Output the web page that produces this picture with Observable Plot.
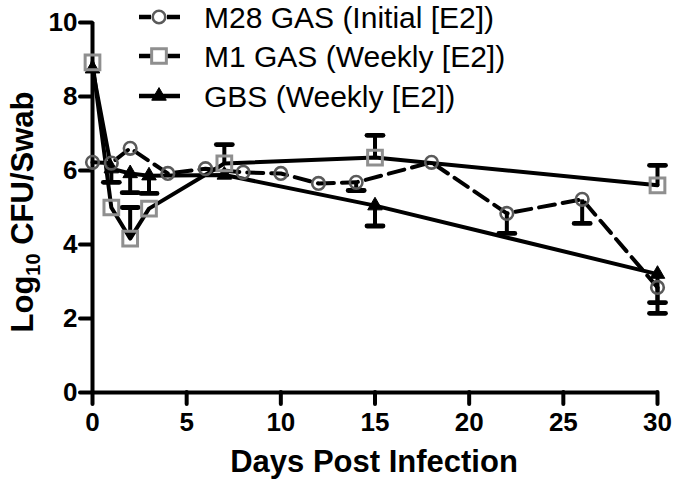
<!DOCTYPE html>
<html>
<head>
<meta charset="utf-8">
<script src="https://cdn.jsdelivr.net/npm/d3@7"></script>
<script src="https://cdn.jsdelivr.net/npm/@observablehq/plot@0.6"></script>
<style>
  html, body { margin: 0; padding: 0; background: #fff; }
  #chart { width: 675px; height: 484px; position: relative; }
</style>
</head>
<body>
<div id="chart"></div>
<script>
// ---- data ----
const seriesNames = ["M28 GAS (Initial [E2])", "M1 GAS (Weekly [E2])", "GBS (Weekly [E2])"];

const m28Days = [0, 1, 2, 4, 6, 8, 10, 12, 14, 18, 22, 26, 30];
const m28Values = [6.22, 6.2, 6.6, 5.92, 6.05, 5.95, 5.92, 5.65, 5.68, 6.22, 4.84, 5.22, 2.84];
const m28ErrEnd = [null, null, null, null, null, null, null, null, 5.46, null, 4.3, 4.57, 2.14];

const m1Days = [0, 1, 2, 3, 7, 15, 30];
const m1Values = [8.92, 5.0, 4.16, 4.97, 6.19, 6.35, 5.6];
const m1ErrEnd = [null, null, 5.0, null, 6.7, 6.95, 6.14];

const gbsDays = [0, 1, 2, 3, 7, 15, 30];
const gbsValues = [8.75, 6.05, 5.92, 5.86, 5.88, 5.05, 3.2];
const gbsErrEnd = [null, 5.68, 5.4, 5.38, null, 4.5, 2.43];

const xTicks = [0, 5, 10, 15, 20, 25, 30];
const yTicks = [0, 2, 4, 6, 8, 10];
const xTitle = "Days Post Infection";
const yTitleParts = ["Log", "10", " CFU/Swab"];

// ---- build tables ----
function rows(name, days, vals, errs) {
  return days.map((d, i) => ({series: name, day: d, value: vals[i], err: errs[i]}));
}
const m28 = rows(seriesNames[0], m28Days, m28Values, m28ErrEnd);
const m1 = rows(seriesNames[1], m1Days, m1Values, m1ErrEnd);
const gbs = rows(seriesNames[2], gbsDays, gbsValues, gbsErrEnd);
const allRows = [...m28, ...m1, ...gbs];
const errRows = allRows.filter(d => d.err != null);

const capSymbol = {
  draw(ctx, size) {
    const w = Math.sqrt(size / Math.PI);
    ctx.moveTo(-w, 0);
    ctx.lineTo(w, 0);
  }
};

const FONT = "'Liberation Sans', Arial, Helvetica, sans-serif";
const LW = 4;

const plot = Plot.plot({
  width: 675,
  height: 484,
  marginLeft: 92,
  marginRight: 18,
  marginTop: 22,
  marginBottom: 92,
  x: {domain: [0, 30], ticks: xTicks},
  y: {domain: [0, 10], ticks: yTicks},
  style: {fontFamily: FONT, background: "#fff", color: "#000", overflow: "visible"},
  marks: [
    Plot.axisX({ticks: xTicks, tickSize: 12, tickPadding: 8, fontSize: 26, fontWeight: "bold",
      strokeWidth: LW, label: null, strokeLinecap: "round"}),
    Plot.axisY({ticks: yTicks, tickSize: 12, tickPadding: 3, fontSize: 26, fontWeight: "bold",
      strokeWidth: LW, label: null, strokeLinecap: "round"}),
    Plot.ruleX([0], {strokeWidth: LW}),
    Plot.ruleY([0], {strokeWidth: LW}),
    // error bars
    Plot.link(errRows, {x1: "day", x2: "day", y1: "value", y2: "err", stroke: "#000", strokeWidth: LW}),
    Plot.dot(errRows, {x: "day", y: "err", symbol: capSymbol, r: 8, stroke: "#000", strokeWidth: 4.8,
      fill: "none", strokeLinecap: "round"}),
    // lines
    Plot.line(m28, {x: "day", y: "value", stroke: "#000", strokeWidth: LW, strokeDasharray: "16,8",
      strokeLinejoin: "round"}),
    Plot.line(m1, {x: "day", y: "value", stroke: "#000", strokeWidth: LW, strokeLinejoin: "round"}),
    Plot.line(gbs, {x: "day", y: "value", stroke: "#000", strokeWidth: LW, strokeLinejoin: "round"}),
    // markers
    Plot.dot(gbs, {x: "day", y: "value", symbol: "triangle", r: 5.4, fill: "#000", stroke: "#000", strokeWidth: 1}),
    Plot.dot(m1, {x: "day", y: "value", symbol: "square", r: 8.3, fill: "none", stroke: "#8f8f8f", strokeWidth: 3}),
    Plot.dot(m28, {x: "day", y: "value", symbol: "circle", r: 6.3, fill: "none", stroke: "#5a5a5a", strokeWidth: 2.6})
  ]
});

document.getElementById("chart").appendChild(plot);

// ---- titles ----
const svg = d3.select(plot);
svg.append("text")
  .attr("x", 374).attr("y", 472)
  .attr("text-anchor", "middle")
  .attr("font-family", FONT).attr("font-size", 31).attr("font-weight", "bold")
  .attr("fill", "#000")
  .text(xTitle);

const yt = svg.append("text")
  .attr("transform", "translate(33,212) rotate(-90)")
  .attr("text-anchor", "middle")
  .attr("font-family", FONT).attr("font-size", 31).attr("font-weight", "bold")
  .attr("fill", "#000");
yt.append("tspan").text(yTitleParts[0]);
yt.append("tspan").attr("font-size", 20).attr("dy", 7).text(yTitleParts[1]);
yt.append("tspan").attr("dy", -7).text(yTitleParts[2]);

// ---- legend ----
const legendStyles = [
  {symbol: d3.symbolCircle, size: Math.PI * 6.3 * 6.3, fill: "none", stroke: "#5a5a5a", sw: 2.6, split: true},
  {symbol: d3.symbolSquare, size: Math.PI * 8.3 * 8.3, fill: "none", stroke: "#8f8f8f", sw: 3, split: true},
  {symbol: d3.symbolTriangle, size: Math.PI * 5.4 * 5.4, fill: "#000", stroke: "#000", sw: 1, split: false}
];
const legendRowY = [17, 56, 96];
const lg = svg.append("g");
seriesNames.forEach((name, i) => {
  const st = legendStyles[i];
  const cy = legendRowY[i];
  const g = lg.append("g");
  if (st.split) {
    g.append("line").attr("x1", 139).attr("x2", 151).attr("y1", cy).attr("y2", cy)
      .attr("stroke", "#000").attr("stroke-width", LW + 0.5);
    g.append("line").attr("x1", 167).attr("x2", 180).attr("y1", cy).attr("y2", cy)
      .attr("stroke", "#000").attr("stroke-width", LW + 0.5);
  } else {
    g.append("line").attr("x1", 139).attr("x2", 180).attr("y1", cy).attr("y2", cy)
      .attr("stroke", "#000").attr("stroke-width", LW + 0.5);
  }
  g.append("path")
    .attr("transform", `translate(159,${cy})`)
    .attr("d", d3.symbol(st.symbol, st.size)())
    .attr("fill", st.fill).attr("stroke", st.stroke).attr("stroke-width", st.sw);
  g.append("text")
    .attr("x", 204).attr("y", cy + 11)
    .attr("text-anchor", "start")
    .attr("font-family", FONT).attr("font-size", 30)
    .attr("fill", "#000")
    .text(name);
});
</script>
</body>
</html>
